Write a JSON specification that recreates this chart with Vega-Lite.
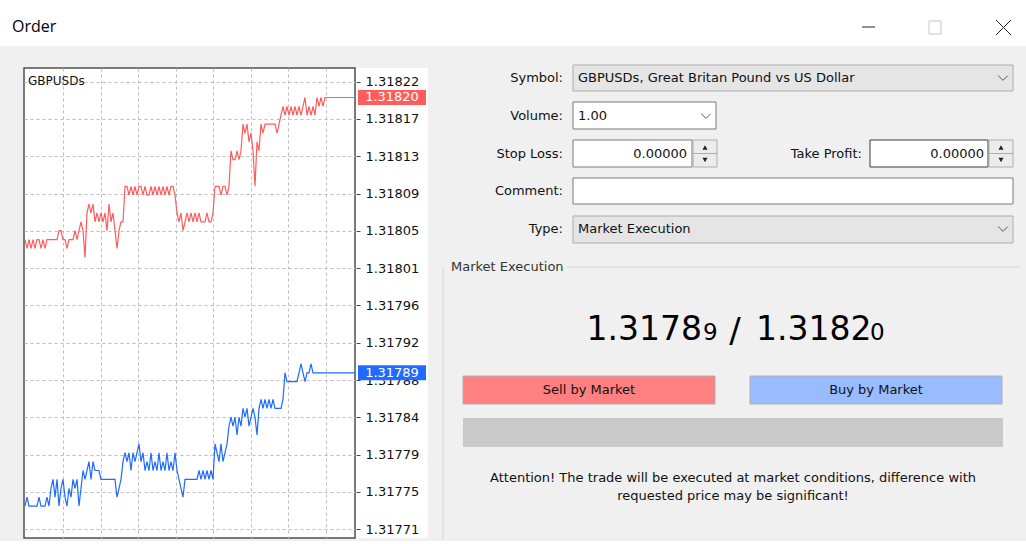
{
  "$schema": "https://vega.github.io/schema/vega-lite/v6.json",
  "background": "#f0f0f0",
  "padding": 0,
  "bounds": "flush",
  "spacing": 22,
  "config": {
    "view": {"stroke": null},
    "text": {"font": "DejaVu Sans", "fontSize": 13, "color": "#111111"}
  },
  "datasets": {
    "ticks": [
      {"tick":0,"side":"Ask","price":1.31804},{"tick":1,"side":"Ask","price":1.31803},{"tick":2,"side":"Ask","price":1.31804},{"tick":3,"side":"Ask","price":1.31803},{"tick":4,"side":"Ask","price":1.31804},{"tick":5,"side":"Ask","price":1.31803},{"tick":6,"side":"Ask","price":1.31804},{"tick":7,"side":"Ask","price":1.31804},{"tick":8,"side":"Ask","price":1.31803},{"tick":9,"side":"Ask","price":1.31804},
      {"tick":10,"side":"Ask","price":1.31803},{"tick":11,"side":"Ask","price":1.31804},{"tick":12,"side":"Ask","price":1.31804},{"tick":13,"side":"Ask","price":1.31804},{"tick":14,"side":"Ask","price":1.31804},{"tick":15,"side":"Ask","price":1.31804},{"tick":16,"side":"Ask","price":1.31804},{"tick":17,"side":"Ask","price":1.31805},{"tick":18,"side":"Ask","price":1.31805},{"tick":19,"side":"Ask","price":1.31804},
      {"tick":20,"side":"Ask","price":1.31804},{"tick":21,"side":"Ask","price":1.31803},{"tick":22,"side":"Ask","price":1.31804},{"tick":23,"side":"Ask","price":1.31804},{"tick":24,"side":"Ask","price":1.31804},{"tick":25,"side":"Ask","price":1.31805},{"tick":26,"side":"Ask","price":1.31804},{"tick":27,"side":"Ask","price":1.31805},{"tick":28,"side":"Ask","price":1.31806},{"tick":29,"side":"Ask","price":1.31805},
      {"tick":30,"side":"Ask","price":1.31802},{"tick":31,"side":"Ask","price":1.31807},{"tick":32,"side":"Ask","price":1.31808},{"tick":33,"side":"Ask","price":1.31807},{"tick":34,"side":"Ask","price":1.31808},{"tick":35,"side":"Ask","price":1.31806},{"tick":36,"side":"Ask","price":1.31807},{"tick":37,"side":"Ask","price":1.31806},{"tick":38,"side":"Ask","price":1.31807},{"tick":39,"side":"Ask","price":1.31806},
      {"tick":40,"side":"Ask","price":1.31807},{"tick":41,"side":"Ask","price":1.31805},{"tick":42,"side":"Ask","price":1.31808},{"tick":43,"side":"Ask","price":1.31806},{"tick":44,"side":"Ask","price":1.31807},{"tick":45,"side":"Ask","price":1.31805},{"tick":46,"side":"Ask","price":1.31803},{"tick":47,"side":"Ask","price":1.31805},{"tick":48,"side":"Ask","price":1.31806},{"tick":49,"side":"Ask","price":1.31806},
      {"tick":50,"side":"Ask","price":1.3181},{"tick":51,"side":"Ask","price":1.3181},{"tick":52,"side":"Ask","price":1.31809},{"tick":53,"side":"Ask","price":1.3181},{"tick":54,"side":"Ask","price":1.31809},{"tick":55,"side":"Ask","price":1.3181},{"tick":56,"side":"Ask","price":1.31809},{"tick":57,"side":"Ask","price":1.3181},{"tick":58,"side":"Ask","price":1.3181},{"tick":59,"side":"Ask","price":1.31809},
      {"tick":60,"side":"Ask","price":1.3181},{"tick":61,"side":"Ask","price":1.31809},{"tick":62,"side":"Ask","price":1.31809},{"tick":63,"side":"Ask","price":1.3181},{"tick":64,"side":"Ask","price":1.31809},{"tick":65,"side":"Ask","price":1.3181},{"tick":66,"side":"Ask","price":1.31809},{"tick":67,"side":"Ask","price":1.3181},{"tick":68,"side":"Ask","price":1.31809},{"tick":69,"side":"Ask","price":1.3181},
      {"tick":70,"side":"Ask","price":1.31809},{"tick":71,"side":"Ask","price":1.3181},{"tick":72,"side":"Ask","price":1.31809},{"tick":73,"side":"Ask","price":1.3181},{"tick":74,"side":"Ask","price":1.3181},{"tick":75,"side":"Ask","price":1.31809},{"tick":76,"side":"Ask","price":1.31807},{"tick":77,"side":"Ask","price":1.31806},{"tick":78,"side":"Ask","price":1.31807},{"tick":79,"side":"Ask","price":1.31805},
      {"tick":80,"side":"Ask","price":1.31806},{"tick":81,"side":"Ask","price":1.31807},{"tick":82,"side":"Ask","price":1.31806},{"tick":83,"side":"Ask","price":1.31807},{"tick":84,"side":"Ask","price":1.31806},{"tick":85,"side":"Ask","price":1.31807},{"tick":86,"side":"Ask","price":1.31806},{"tick":87,"side":"Ask","price":1.31807},{"tick":88,"side":"Ask","price":1.31806},{"tick":89,"side":"Ask","price":1.31806},
      {"tick":90,"side":"Ask","price":1.31806},{"tick":91,"side":"Ask","price":1.31807},{"tick":92,"side":"Ask","price":1.31806},{"tick":93,"side":"Ask","price":1.31806},{"tick":94,"side":"Ask","price":1.31807},{"tick":95,"side":"Ask","price":1.3181},{"tick":96,"side":"Ask","price":1.3181},{"tick":97,"side":"Ask","price":1.3181},{"tick":98,"side":"Ask","price":1.31809},{"tick":99,"side":"Ask","price":1.3181},
      {"tick":100,"side":"Ask","price":1.3181},{"tick":101,"side":"Ask","price":1.31809},{"tick":102,"side":"Ask","price":1.3181},{"tick":103,"side":"Ask","price":1.31814},{"tick":104,"side":"Ask","price":1.31813},{"tick":105,"side":"Ask","price":1.31813},{"tick":106,"side":"Ask","price":1.31814},{"tick":107,"side":"Ask","price":1.31813},{"tick":108,"side":"Ask","price":1.31814},{"tick":109,"side":"Ask","price":1.31817},
      {"tick":110,"side":"Ask","price":1.31816},{"tick":111,"side":"Ask","price":1.31817},{"tick":112,"side":"Ask","price":1.31815},{"tick":113,"side":"Ask","price":1.31816},{"tick":114,"side":"Ask","price":1.31814},{"tick":115,"side":"Ask","price":1.3181},{"tick":116,"side":"Ask","price":1.31815},{"tick":117,"side":"Ask","price":1.31814},{"tick":118,"side":"Ask","price":1.31817},{"tick":119,"side":"Ask","price":1.31816},
      {"tick":120,"side":"Ask","price":1.31817},{"tick":121,"side":"Ask","price":1.31817},{"tick":122,"side":"Ask","price":1.31817},{"tick":123,"side":"Ask","price":1.31817},{"tick":124,"side":"Ask","price":1.31817},{"tick":125,"side":"Ask","price":1.31817},{"tick":126,"side":"Ask","price":1.31816},{"tick":127,"side":"Ask","price":1.31817},{"tick":128,"side":"Ask","price":1.31818},{"tick":129,"side":"Ask","price":1.31819},
      {"tick":130,"side":"Ask","price":1.31818},{"tick":131,"side":"Ask","price":1.31819},{"tick":132,"side":"Ask","price":1.31818},{"tick":133,"side":"Ask","price":1.31819},{"tick":134,"side":"Ask","price":1.31818},{"tick":135,"side":"Ask","price":1.31819},{"tick":136,"side":"Ask","price":1.31818},{"tick":137,"side":"Ask","price":1.31819},{"tick":138,"side":"Ask","price":1.31818},{"tick":139,"side":"Ask","price":1.31819},
      {"tick":140,"side":"Ask","price":1.3182},{"tick":141,"side":"Ask","price":1.31818},{"tick":142,"side":"Ask","price":1.31819},{"tick":143,"side":"Ask","price":1.31818},{"tick":144,"side":"Ask","price":1.31819},{"tick":145,"side":"Ask","price":1.31818},{"tick":146,"side":"Ask","price":1.3182},{"tick":147,"side":"Ask","price":1.31819},{"tick":148,"side":"Ask","price":1.3182},{"tick":149,"side":"Ask","price":1.31819},
      {"tick":150,"side":"Ask","price":1.3182},{"tick":151,"side":"Ask","price":1.3182},{"tick":152,"side":"Ask","price":1.3182},{"tick":153,"side":"Ask","price":1.3182},{"tick":154,"side":"Ask","price":1.3182},{"tick":155,"side":"Ask","price":1.3182},{"tick":156,"side":"Ask","price":1.3182},{"tick":157,"side":"Ask","price":1.3182},{"tick":158,"side":"Ask","price":1.3182},{"tick":159,"side":"Ask","price":1.3182},
      {"tick":160,"side":"Ask","price":1.3182},{"tick":161,"side":"Ask","price":1.3182},{"tick":162,"side":"Ask","price":1.3182},{"tick":163,"side":"Ask","price":1.3182},{"tick":164,"side":"Ask","price":1.3182},{"tick":165,"side":"Ask","price":1.3182},
      {"tick":0,"side":"Bid","price":1.31774},{"tick":1,"side":"Bid","price":1.31775},{"tick":2,"side":"Bid","price":1.31774},{"tick":3,"side":"Bid","price":1.31774},{"tick":4,"side":"Bid","price":1.31774},{"tick":5,"side":"Bid","price":1.31774},{"tick":6,"side":"Bid","price":1.31774},{"tick":7,"side":"Bid","price":1.31775},{"tick":8,"side":"Bid","price":1.31774},{"tick":9,"side":"Bid","price":1.31774},
      {"tick":10,"side":"Bid","price":1.31774},{"tick":11,"side":"Bid","price":1.31775},{"tick":12,"side":"Bid","price":1.31774},{"tick":13,"side":"Bid","price":1.31776},{"tick":14,"side":"Bid","price":1.31777},{"tick":15,"side":"Bid","price":1.31775},{"tick":16,"side":"Bid","price":1.31777},{"tick":17,"side":"Bid","price":1.31774},{"tick":18,"side":"Bid","price":1.31776},{"tick":19,"side":"Bid","price":1.31777},
      {"tick":20,"side":"Bid","price":1.31775},{"tick":21,"side":"Bid","price":1.31774},{"tick":22,"side":"Bid","price":1.31776},{"tick":23,"side":"Bid","price":1.31775},{"tick":24,"side":"Bid","price":1.31777},{"tick":25,"side":"Bid","price":1.31776},{"tick":26,"side":"Bid","price":1.31777},{"tick":27,"side":"Bid","price":1.31774},{"tick":28,"side":"Bid","price":1.31776},{"tick":29,"side":"Bid","price":1.31778},
      {"tick":30,"side":"Bid","price":1.31777},{"tick":31,"side":"Bid","price":1.31778},{"tick":32,"side":"Bid","price":1.31779},{"tick":33,"side":"Bid","price":1.31777},{"tick":34,"side":"Bid","price":1.31779},{"tick":35,"side":"Bid","price":1.31778},{"tick":36,"side":"Bid","price":1.31778},{"tick":37,"side":"Bid","price":1.31778},{"tick":38,"side":"Bid","price":1.31777},{"tick":39,"side":"Bid","price":1.31777},
      {"tick":40,"side":"Bid","price":1.31777},{"tick":41,"side":"Bid","price":1.31777},{"tick":42,"side":"Bid","price":1.31777},{"tick":43,"side":"Bid","price":1.31777},{"tick":44,"side":"Bid","price":1.31777},{"tick":45,"side":"Bid","price":1.31777},{"tick":46,"side":"Bid","price":1.31775},{"tick":47,"side":"Bid","price":1.31776},{"tick":48,"side":"Bid","price":1.31777},{"tick":49,"side":"Bid","price":1.31779},
      {"tick":50,"side":"Bid","price":1.3178},{"tick":51,"side":"Bid","price":1.31779},{"tick":52,"side":"Bid","price":1.3178},{"tick":53,"side":"Bid","price":1.31778},{"tick":54,"side":"Bid","price":1.3178},{"tick":55,"side":"Bid","price":1.31779},{"tick":56,"side":"Bid","price":1.3178},{"tick":57,"side":"Bid","price":1.31781},{"tick":58,"side":"Bid","price":1.31779},{"tick":59,"side":"Bid","price":1.3178},
      {"tick":60,"side":"Bid","price":1.31778},{"tick":61,"side":"Bid","price":1.31779},{"tick":62,"side":"Bid","price":1.31778},{"tick":63,"side":"Bid","price":1.3178},{"tick":64,"side":"Bid","price":1.31778},{"tick":65,"side":"Bid","price":1.31779},{"tick":66,"side":"Bid","price":1.31778},{"tick":67,"side":"Bid","price":1.3178},{"tick":68,"side":"Bid","price":1.31778},{"tick":69,"side":"Bid","price":1.31779},
      {"tick":70,"side":"Bid","price":1.31778},{"tick":71,"side":"Bid","price":1.3178},{"tick":72,"side":"Bid","price":1.31778},{"tick":73,"side":"Bid","price":1.31779},{"tick":74,"side":"Bid","price":1.31778},{"tick":75,"side":"Bid","price":1.3178},{"tick":76,"side":"Bid","price":1.31778},{"tick":77,"side":"Bid","price":1.31777},{"tick":78,"side":"Bid","price":1.31776},{"tick":79,"side":"Bid","price":1.31775},
      {"tick":80,"side":"Bid","price":1.31777},{"tick":81,"side":"Bid","price":1.31777},{"tick":82,"side":"Bid","price":1.31777},{"tick":83,"side":"Bid","price":1.31777},{"tick":84,"side":"Bid","price":1.31777},{"tick":85,"side":"Bid","price":1.31777},{"tick":86,"side":"Bid","price":1.31777},{"tick":87,"side":"Bid","price":1.31778},{"tick":88,"side":"Bid","price":1.31777},{"tick":89,"side":"Bid","price":1.31778},
      {"tick":90,"side":"Bid","price":1.31777},{"tick":91,"side":"Bid","price":1.31778},{"tick":92,"side":"Bid","price":1.31777},{"tick":93,"side":"Bid","price":1.31778},{"tick":94,"side":"Bid","price":1.31777},{"tick":95,"side":"Bid","price":1.31781},{"tick":96,"side":"Bid","price":1.3178},{"tick":97,"side":"Bid","price":1.31779},{"tick":98,"side":"Bid","price":1.31781},{"tick":99,"side":"Bid","price":1.31779},
      {"tick":100,"side":"Bid","price":1.3178},{"tick":101,"side":"Bid","price":1.31781},{"tick":102,"side":"Bid","price":1.31783},{"tick":103,"side":"Bid","price":1.31784},{"tick":104,"side":"Bid","price":1.31783},{"tick":105,"side":"Bid","price":1.31784},{"tick":106,"side":"Bid","price":1.31782},{"tick":107,"side":"Bid","price":1.31784},{"tick":108,"side":"Bid","price":1.31783},{"tick":109,"side":"Bid","price":1.31785},
      {"tick":110,"side":"Bid","price":1.31784},{"tick":111,"side":"Bid","price":1.31785},{"tick":112,"side":"Bid","price":1.31783},{"tick":113,"side":"Bid","price":1.31784},{"tick":114,"side":"Bid","price":1.31785},{"tick":115,"side":"Bid","price":1.31784},{"tick":116,"side":"Bid","price":1.31782},{"tick":117,"side":"Bid","price":1.31785},{"tick":118,"side":"Bid","price":1.31786},{"tick":119,"side":"Bid","price":1.31785},
      {"tick":120,"side":"Bid","price":1.31786},{"tick":121,"side":"Bid","price":1.31785},{"tick":122,"side":"Bid","price":1.31786},{"tick":123,"side":"Bid","price":1.31785},{"tick":124,"side":"Bid","price":1.31786},{"tick":125,"side":"Bid","price":1.31785},{"tick":126,"side":"Bid","price":1.31785},{"tick":127,"side":"Bid","price":1.31785},{"tick":128,"side":"Bid","price":1.31785},{"tick":129,"side":"Bid","price":1.31786},
      {"tick":130,"side":"Bid","price":1.31789},{"tick":131,"side":"Bid","price":1.31788},{"tick":132,"side":"Bid","price":1.31788},{"tick":133,"side":"Bid","price":1.31788},{"tick":134,"side":"Bid","price":1.31788},{"tick":135,"side":"Bid","price":1.31788},{"tick":136,"side":"Bid","price":1.31788},{"tick":137,"side":"Bid","price":1.31789},{"tick":138,"side":"Bid","price":1.3179},{"tick":139,"side":"Bid","price":1.31789},
      {"tick":140,"side":"Bid","price":1.31788},{"tick":141,"side":"Bid","price":1.31789},{"tick":142,"side":"Bid","price":1.31789},{"tick":143,"side":"Bid","price":1.3179},{"tick":144,"side":"Bid","price":1.31789},{"tick":145,"side":"Bid","price":1.31789},{"tick":146,"side":"Bid","price":1.31789},{"tick":147,"side":"Bid","price":1.31789},{"tick":148,"side":"Bid","price":1.31789},{"tick":149,"side":"Bid","price":1.31789},
      {"tick":150,"side":"Bid","price":1.31789},{"tick":151,"side":"Bid","price":1.31789},{"tick":152,"side":"Bid","price":1.31789},{"tick":153,"side":"Bid","price":1.31789},{"tick":154,"side":"Bid","price":1.31789},{"tick":155,"side":"Bid","price":1.31789},{"tick":156,"side":"Bid","price":1.31789},{"tick":157,"side":"Bid","price":1.31789},{"tick":158,"side":"Bid","price":1.31789},{"tick":159,"side":"Bid","price":1.31789},
      {"tick":160,"side":"Bid","price":1.31789},{"tick":161,"side":"Bid","price":1.31789},{"tick":162,"side":"Bid","price":1.31789},{"tick":163,"side":"Bid","price":1.31789},{"tick":164,"side":"Bid","price":1.31789},{"tick":165,"side":"Bid","price":1.31789}
    ]
  },
  "vconcat": [
    {
      "width": 1026,
      "height": 46,
      "view": {"fill": "#ffffff", "stroke": null},
      "data": {"values": [{"title": "Order"}]},
      "layer": [
        {"mark": {"type": "text", "align": "left", "font": "Open Sans", "fontSize": 16, "color": "#000000"},
         "encoding": {"x": {"datum": 12, "scale": {"domain": [0, 1026], "nice": false, "zero": false}, "axis": null},
                      "y": {"datum": 27, "scale": {"domain": [0, 46], "reverse": true, "nice": false, "zero": false}, "axis": null},
                      "text": {"field": "title"}}},
        {"mark": {"type": "rule", "color": "#222222", "strokeWidth": 1},
         "encoding": {"x": {"datum": 862, "scale": {"domain": [0, 1026], "nice": false, "zero": false}, "axis": null}, "x2": {"datum": 875},
                      "y": {"datum": 27, "scale": {"domain": [0, 46], "reverse": true, "nice": false, "zero": false}, "axis": null}}},
        {"mark": {"type": "rect", "fill": "transparent", "stroke": "#c6c6c6", "strokeWidth": 1},
         "encoding": {"x": {"datum": 929, "scale": {"domain": [0, 1026], "nice": false, "zero": false}, "axis": null}, "x2": {"datum": 941},
                      "y": {"datum": 21, "scale": {"domain": [0, 46], "reverse": true, "nice": false, "zero": false}, "axis": null}, "y2": {"datum": 34}}},
        {"mark": {"type": "rule", "color": "#222222", "strokeWidth": 1},
         "encoding": {"x": {"datum": 996, "scale": {"domain": [0, 1026], "nice": false, "zero": false}, "axis": null}, "x2": {"datum": 1011},
                      "y": {"datum": 20, "scale": {"domain": [0, 46], "reverse": true, "nice": false, "zero": false}, "axis": null}, "y2": {"datum": 35}}},
        {"mark": {"type": "rule", "color": "#222222", "strokeWidth": 1},
         "encoding": {"x": {"datum": 996, "scale": {"domain": [0, 1026], "nice": false, "zero": false}, "axis": null}, "x2": {"datum": 1011},
                      "y": {"datum": 35, "scale": {"domain": [0, 46], "reverse": true, "nice": false, "zero": false}, "axis": null}, "y2": {"datum": 20}}}
      ]
    },
    {
      "bounds": "flush",
      "spacing": 1,
      "hconcat": [
        {
          "width": 23,
          "height": 470,
          "data": {"values": [{}]},
          "mark": {"type": "text", "text": ""}
        },
        {
          "width": 331,
          "height": 470,
          "view": {"fill": "#ffffff", "stroke": "#505050", "strokeWidth": 1.5},
          "title": {"text": "GBPUSDs", "anchor": "start", "frame": "group", "offset": -20, "dx": 4, "fontSize": 12, "fontWeight": "normal", "color": "#111111", "font": "DejaVu Sans"},
          "data": {"name": "ticks"},
          "mark": {"type": "line", "strokeWidth": 1.2},
          "encoding": {
            "x": {"field": "tick", "type": "quantitative",
                  "scale": {"domain": [-0.5, 165], "nice": false, "zero": false},
                  "axis": {"values": [19.15, 37.9, 56.65, 75.4, 94.15, 112.9, 131.65, 150.4], "grid": true, "gridColor": "#bcbcbc", "gridDash": [3, 3], "labels": false, "ticks": false, "domain": false, "title": null}},
            "y": {"field": "price", "type": "quantitative",
                  "scale": {"domain": [1.317704, 1.3182332], "nice": false, "zero": false},
                  "axis": {"values": [1.3182178, 1.3181758, 1.3181338, 1.3180918, 1.3180498, 1.3180078, 1.3179658, 1.3179238, 1.3178818, 1.3178398, 1.3177978, 1.3177558, 1.3177138], "grid": true, "gridColor": "#bcbcbc", "gridDash": [3, 3], "labels": false, "ticks": false, "domain": false, "title": null}},
            "color": {"field": "side", "type": "nominal", "scale": {"domain": ["Ask", "Bid"], "range": ["#ff5c5c", "#1f6bff"]}, "legend": null}
          }
        },
        {
          "width": 72,
          "height": 470,
          "view": {"fill": "#ffffff", "stroke": null},
          "data": {"values": [{"side": "Ask", "price": 1.3182}, {"side": "Bid", "price": 1.31789}]},
          "encoding": {
            "y": {"field": "price", "type": "quantitative",
                  "scale": {"domain": [1.317704, 1.3182332], "nice": false, "zero": false},
                  "axis": {"orient": "right", "offset": -72, "values": [1.3182178, 1.3181758, 1.3181338, 1.3180918, 1.3180498, 1.3180078, 1.3179658, 1.3179238, 1.3178818, 1.3178398, 1.3177978, 1.3177558, 1.3177138],
                           "labelExpr": "['1.31822','1.31817','1.31813','1.31809','1.31805','1.31801','1.31796','1.31792','1.31788','1.31784','1.31779','1.31775','1.31771'][round((1.3182178-datum.value)/0.000042)]",
                           "tickSize": 4, "tickColor": "#444444", "labelPadding": 5, "labelFont": "DejaVu Sans", "labelFontSize": 13, "labelColor": "#111111", "labelOverlap": false, "labelFlush": false, "labelBound": false, "domain": false, "grid": false, "title": null}}
          },
          "layer": [
            {"mark": {"type": "tick", "orient": "horizontal", "thickness": 15, "size": 68, "opacity": 1},
             "encoding": {
               "color": {"field": "side", "type": "nominal", "scale": {"domain": ["Ask", "Bid"], "range": ["#ff6464", "#1f6bff"]}, "legend": null}}},
            {"mark": {"type": "text", "color": "#ffffff", "fontSize": 13, "font": "DejaVu Sans"},
             "encoding": {
               "text": {"field": "price", "type": "quantitative", "format": ".5f"}}}
          ]
        },
        {
          "width": 597,
          "height": 470,
          "data": {"values": [{}]},
          "layer": [
            {"mark": {"type": "rule", "color": "#d6d6d6"},
             "encoding": {"x": {"datum": 567, "scale": {"domain": [429, 1026], "nice": false, "zero": false}, "axis": null}, "x2": {"datum": 1020},
                          "y": {"datum": 267, "scale": {"domain": [68, 538], "reverse": true, "nice": false, "zero": false}, "axis": null}}},
            {"mark": {"type": "rule", "color": "#d6d6d6"},
             "encoding": {"x": {"datum": 443, "scale": {"domain": [429, 1026], "nice": false, "zero": false}, "axis": null},
                          "y": {"datum": 267, "scale": {"domain": [68, 538], "reverse": true, "nice": false, "zero": false}, "axis": null}, "y2": {"datum": 540}}},
            {"mark": {"type": "rect", "fill": "#e5e5e5", "stroke": "#adadad"},
             "encoding": {"x": {"datum": 573, "scale": {"domain": [429, 1026], "nice": false, "zero": false}, "axis": null}, "x2": {"datum": 1013},
                          "y": {"datum": 65, "scale": {"domain": [68, 538], "reverse": true, "nice": false, "zero": false}, "axis": null}, "y2": {"datum": 91}}},
            {"mark": {"type": "rect", "fill": "#ffffff", "stroke": "#7a7a7a"},
             "encoding": {"x": {"datum": 573, "scale": {"domain": [429, 1026], "nice": false, "zero": false}, "axis": null}, "x2": {"datum": 716},
                          "y": {"datum": 102, "scale": {"domain": [68, 538], "reverse": true, "nice": false, "zero": false}, "axis": null}, "y2": {"datum": 129}}},
            {"mark": {"type": "rect", "fill": "#ffffff", "stroke": "#7a7a7a"},
             "encoding": {"x": {"datum": 573, "scale": {"domain": [429, 1026], "nice": false, "zero": false}, "axis": null}, "x2": {"datum": 692},
                          "y": {"datum": 140, "scale": {"domain": [68, 538], "reverse": true, "nice": false, "zero": false}, "axis": null}, "y2": {"datum": 167}}},
            {"mark": {"type": "rect", "fill": "#ececec", "stroke": "#adadad"},
             "encoding": {"x": {"datum": 693, "scale": {"domain": [429, 1026], "nice": false, "zero": false}, "axis": null}, "x2": {"datum": 717},
                          "y": {"datum": 140, "scale": {"domain": [68, 538], "reverse": true, "nice": false, "zero": false}, "axis": null}, "y2": {"datum": 167}}},
            {"mark": {"type": "rule", "color": "#adadad"},
             "encoding": {"x": {"datum": 693, "scale": {"domain": [429, 1026], "nice": false, "zero": false}, "axis": null}, "x2": {"datum": 717},
                          "y": {"datum": 153.5, "scale": {"domain": [68, 538], "reverse": true, "nice": false, "zero": false}, "axis": null}}},
            {"mark": {"type": "rect", "fill": "#ffffff", "stroke": "#3a3a3a"},
             "encoding": {"x": {"datum": 870, "scale": {"domain": [429, 1026], "nice": false, "zero": false}, "axis": null}, "x2": {"datum": 988},
                          "y": {"datum": 140, "scale": {"domain": [68, 538], "reverse": true, "nice": false, "zero": false}, "axis": null}, "y2": {"datum": 167}}},
            {"mark": {"type": "rect", "fill": "#ececec", "stroke": "#adadad"},
             "encoding": {"x": {"datum": 989, "scale": {"domain": [429, 1026], "nice": false, "zero": false}, "axis": null}, "x2": {"datum": 1013},
                          "y": {"datum": 140, "scale": {"domain": [68, 538], "reverse": true, "nice": false, "zero": false}, "axis": null}, "y2": {"datum": 167}}},
            {"mark": {"type": "rule", "color": "#adadad"},
             "encoding": {"x": {"datum": 989, "scale": {"domain": [429, 1026], "nice": false, "zero": false}, "axis": null}, "x2": {"datum": 1013},
                          "y": {"datum": 153.5, "scale": {"domain": [68, 538], "reverse": true, "nice": false, "zero": false}, "axis": null}}},
            {"mark": {"type": "rect", "fill": "#ffffff", "stroke": "#7a7a7a"},
             "encoding": {"x": {"datum": 573, "scale": {"domain": [429, 1026], "nice": false, "zero": false}, "axis": null}, "x2": {"datum": 1013},
                          "y": {"datum": 178, "scale": {"domain": [68, 538], "reverse": true, "nice": false, "zero": false}, "axis": null}, "y2": {"datum": 204}}},
            {"mark": {"type": "rect", "fill": "#e5e5e5", "stroke": "#adadad"},
             "encoding": {"x": {"datum": 573, "scale": {"domain": [429, 1026], "nice": false, "zero": false}, "axis": null}, "x2": {"datum": 1013},
                          "y": {"datum": 216, "scale": {"domain": [68, 538], "reverse": true, "nice": false, "zero": false}, "axis": null}, "y2": {"datum": 243}}},
            {"mark": {"type": "rect", "fill": "#ff8080", "stroke": "#b0b0b0"},
             "encoding": {"x": {"datum": 463, "scale": {"domain": [429, 1026], "nice": false, "zero": false}, "axis": null}, "x2": {"datum": 715},
                          "y": {"datum": 376, "scale": {"domain": [68, 538], "reverse": true, "nice": false, "zero": false}, "axis": null}, "y2": {"datum": 404}}},
            {"mark": {"type": "rect", "fill": "#99bbff", "stroke": "#b0b0b0"},
             "encoding": {"x": {"datum": 750, "scale": {"domain": [429, 1026], "nice": false, "zero": false}, "axis": null}, "x2": {"datum": 1002},
                          "y": {"datum": 376, "scale": {"domain": [68, 538], "reverse": true, "nice": false, "zero": false}, "axis": null}, "y2": {"datum": 404}}},
            {"mark": {"type": "rect", "fill": "#c9c9c9"},
             "encoding": {"x": {"datum": 463, "scale": {"domain": [429, 1026], "nice": false, "zero": false}, "axis": null}, "x2": {"datum": 1003},
                          "y": {"datum": 418, "scale": {"domain": [68, 538], "reverse": true, "nice": false, "zero": false}, "axis": null}, "y2": {"datum": 447}}},
            {"mark": {"type": "point", "shape": "M-1,-0.5L0,0.5L1,-0.5", "filled": false, "size": 90, "color": "#555555", "strokeWidth": 1, "opacity": 1},
             "encoding": {"x": {"datum": 1003, "scale": {"domain": [429, 1026], "nice": false, "zero": false}, "axis": null},
                          "y": {"datum": 78, "scale": {"domain": [68, 538], "reverse": true, "nice": false, "zero": false}, "axis": null}}},
            {"mark": {"type": "point", "shape": "M-1,-0.5L0,0.5L1,-0.5", "filled": false, "size": 90, "color": "#555555", "strokeWidth": 1, "opacity": 1},
             "encoding": {"x": {"datum": 706, "scale": {"domain": [429, 1026], "nice": false, "zero": false}, "axis": null},
                          "y": {"datum": 116, "scale": {"domain": [68, 538], "reverse": true, "nice": false, "zero": false}, "axis": null}}},
            {"mark": {"type": "point", "shape": "M-1,-0.5L0,0.5L1,-0.5", "filled": false, "size": 90, "color": "#555555", "strokeWidth": 1, "opacity": 1},
             "encoding": {"x": {"datum": 1003, "scale": {"domain": [429, 1026], "nice": false, "zero": false}, "axis": null},
                          "y": {"datum": 229, "scale": {"domain": [68, 538], "reverse": true, "nice": false, "zero": false}, "axis": null}}},
            {"mark": {"type": "point", "shape": "triangle-up", "filled": true, "size": 26, "color": "#222222", "opacity": 1},
             "encoding": {"x": {"datum": 705, "scale": {"domain": [429, 1026], "nice": false, "zero": false}, "axis": null},
                          "y": {"datum": 147.5, "scale": {"domain": [68, 538], "reverse": true, "nice": false, "zero": false}, "axis": null}}},
            {"mark": {"type": "point", "shape": "triangle-down", "filled": true, "size": 26, "color": "#222222", "opacity": 1},
             "encoding": {"x": {"datum": 705, "scale": {"domain": [429, 1026], "nice": false, "zero": false}, "axis": null},
                          "y": {"datum": 160, "scale": {"domain": [68, 538], "reverse": true, "nice": false, "zero": false}, "axis": null}}},
            {"mark": {"type": "point", "shape": "triangle-up", "filled": true, "size": 26, "color": "#222222", "opacity": 1},
             "encoding": {"x": {"datum": 1001, "scale": {"domain": [429, 1026], "nice": false, "zero": false}, "axis": null},
                          "y": {"datum": 147.5, "scale": {"domain": [68, 538], "reverse": true, "nice": false, "zero": false}, "axis": null}}},
            {"mark": {"type": "point", "shape": "triangle-down", "filled": true, "size": 26, "color": "#222222", "opacity": 1},
             "encoding": {"x": {"datum": 1001, "scale": {"domain": [429, 1026], "nice": false, "zero": false}, "axis": null},
                          "y": {"datum": 160, "scale": {"domain": [68, 538], "reverse": true, "nice": false, "zero": false}, "axis": null}}},
            {"data": {"values": [{"label": "Symbol:"}]}, "mark": {"type": "text", "align": "right"},
             "encoding": {"x": {"datum": 563, "scale": {"domain": [429, 1026], "nice": false, "zero": false}, "axis": null},
                          "y": {"datum": 78, "scale": {"domain": [68, 538], "reverse": true, "nice": false, "zero": false}, "axis": null}, "text": {"field": "label"}}},
            {"data": {"values": [{"label": "Volume:"}]}, "mark": {"type": "text", "align": "right"},
             "encoding": {"x": {"datum": 563, "scale": {"domain": [429, 1026], "nice": false, "zero": false}, "axis": null},
                          "y": {"datum": 116, "scale": {"domain": [68, 538], "reverse": true, "nice": false, "zero": false}, "axis": null}, "text": {"field": "label"}}},
            {"data": {"values": [{"label": "Stop Loss:"}]}, "mark": {"type": "text", "align": "right"},
             "encoding": {"x": {"datum": 563, "scale": {"domain": [429, 1026], "nice": false, "zero": false}, "axis": null},
                          "y": {"datum": 154, "scale": {"domain": [68, 538], "reverse": true, "nice": false, "zero": false}, "axis": null}, "text": {"field": "label"}}},
            {"data": {"values": [{"label": "Comment:"}]}, "mark": {"type": "text", "align": "right"},
             "encoding": {"x": {"datum": 563, "scale": {"domain": [429, 1026], "nice": false, "zero": false}, "axis": null},
                          "y": {"datum": 191, "scale": {"domain": [68, 538], "reverse": true, "nice": false, "zero": false}, "axis": null}, "text": {"field": "label"}}},
            {"data": {"values": [{"label": "Type:"}]}, "mark": {"type": "text", "align": "right"},
             "encoding": {"x": {"datum": 563, "scale": {"domain": [429, 1026], "nice": false, "zero": false}, "axis": null},
                          "y": {"datum": 229, "scale": {"domain": [68, 538], "reverse": true, "nice": false, "zero": false}, "axis": null}, "text": {"field": "label"}}},
            {"data": {"values": [{"label": "Take Profit:"}]}, "mark": {"type": "text", "align": "right"},
             "encoding": {"x": {"datum": 862, "scale": {"domain": [429, 1026], "nice": false, "zero": false}, "axis": null},
                          "y": {"datum": 154, "scale": {"domain": [68, 538], "reverse": true, "nice": false, "zero": false}, "axis": null}, "text": {"field": "label"}}},
            {"data": {"values": [{"value": "GBPUSDs, Great Britan Pound vs US Dollar"}]}, "mark": {"type": "text", "align": "left"},
             "encoding": {"x": {"datum": 578, "scale": {"domain": [429, 1026], "nice": false, "zero": false}, "axis": null},
                          "y": {"datum": 78, "scale": {"domain": [68, 538], "reverse": true, "nice": false, "zero": false}, "axis": null}, "text": {"field": "value"}}},
            {"data": {"values": [{"value": "1.00"}]}, "mark": {"type": "text", "align": "left"},
             "encoding": {"x": {"datum": 578, "scale": {"domain": [429, 1026], "nice": false, "zero": false}, "axis": null},
                          "y": {"datum": 116, "scale": {"domain": [68, 538], "reverse": true, "nice": false, "zero": false}, "axis": null}, "text": {"field": "value"}}},
            {"data": {"values": [{"value": "0.00000"}]}, "mark": {"type": "text", "align": "right"},
             "encoding": {"x": {"datum": 687, "scale": {"domain": [429, 1026], "nice": false, "zero": false}, "axis": null},
                          "y": {"datum": 154, "scale": {"domain": [68, 538], "reverse": true, "nice": false, "zero": false}, "axis": null}, "text": {"field": "value"}}},
            {"data": {"values": [{"value": "0.00000"}]}, "mark": {"type": "text", "align": "right"},
             "encoding": {"x": {"datum": 984, "scale": {"domain": [429, 1026], "nice": false, "zero": false}, "axis": null},
                          "y": {"datum": 154, "scale": {"domain": [68, 538], "reverse": true, "nice": false, "zero": false}, "axis": null}, "text": {"field": "value"}}},
            {"data": {"values": [{"value": "Market Execution"}]}, "mark": {"type": "text", "align": "left"},
             "encoding": {"x": {"datum": 578, "scale": {"domain": [429, 1026], "nice": false, "zero": false}, "axis": null},
                          "y": {"datum": 229, "scale": {"domain": [68, 538], "reverse": true, "nice": false, "zero": false}, "axis": null}, "text": {"field": "value"}}},
            {"data": {"values": [{"value": "Market Execution"}]}, "mark": {"type": "text", "align": "left", "color": "#333333"},
             "encoding": {"x": {"datum": 451, "scale": {"domain": [429, 1026], "nice": false, "zero": false}, "axis": null},
                          "y": {"datum": 267, "scale": {"domain": [68, 538], "reverse": true, "nice": false, "zero": false}, "axis": null}, "text": {"field": "value"}}},
            {"data": {"values": [{"value": "1.3178"}]}, "mark": {"type": "text", "align": "right", "baseline": "alphabetic", "fontSize": 33, "color": "#000000"},
             "encoding": {"x": {"datum": 702, "scale": {"domain": [429, 1026], "nice": false, "zero": false}, "axis": null},
                          "y": {"datum": 340, "scale": {"domain": [68, 538], "reverse": true, "nice": false, "zero": false}, "axis": null}, "text": {"field": "value"}}},
            {"data": {"values": [{"value": "9"}]}, "mark": {"type": "text", "align": "left", "baseline": "alphabetic", "fontSize": 23, "color": "#000000"},
             "encoding": {"x": {"datum": 703, "scale": {"domain": [429, 1026], "nice": false, "zero": false}, "axis": null},
                          "y": {"datum": 340, "scale": {"domain": [68, 538], "reverse": true, "nice": false, "zero": false}, "axis": null}, "text": {"field": "value"}}},
            {"data": {"values": [{"value": "/"}]}, "mark": {"type": "text", "align": "center", "baseline": "alphabetic", "fontSize": 34, "color": "#000000"},
             "encoding": {"x": {"datum": 735, "scale": {"domain": [429, 1026], "nice": false, "zero": false}, "axis": null},
                          "y": {"datum": 342, "scale": {"domain": [68, 538], "reverse": true, "nice": false, "zero": false}, "axis": null}, "text": {"field": "value"}}},
            {"data": {"values": [{"value": "1.3182"}]}, "mark": {"type": "text", "align": "left", "baseline": "alphabetic", "fontSize": 33, "color": "#000000"},
             "encoding": {"x": {"datum": 756, "scale": {"domain": [429, 1026], "nice": false, "zero": false}, "axis": null},
                          "y": {"datum": 340, "scale": {"domain": [68, 538], "reverse": true, "nice": false, "zero": false}, "axis": null}, "text": {"field": "value"}}},
            {"data": {"values": [{"value": "0"}]}, "mark": {"type": "text", "align": "left", "baseline": "alphabetic", "fontSize": 23, "color": "#000000"},
             "encoding": {"x": {"datum": 870, "scale": {"domain": [429, 1026], "nice": false, "zero": false}, "axis": null},
                          "y": {"datum": 340, "scale": {"domain": [68, 538], "reverse": true, "nice": false, "zero": false}, "axis": null}, "text": {"field": "value"}}},
            {"data": {"values": [{"value": "Sell by Market"}]}, "mark": {"type": "text", "align": "center"},
             "encoding": {"x": {"datum": 589, "scale": {"domain": [429, 1026], "nice": false, "zero": false}, "axis": null},
                          "y": {"datum": 390, "scale": {"domain": [68, 538], "reverse": true, "nice": false, "zero": false}, "axis": null}, "text": {"field": "value"}}},
            {"data": {"values": [{"value": "Buy by Market"}]}, "mark": {"type": "text", "align": "center"},
             "encoding": {"x": {"datum": 876, "scale": {"domain": [429, 1026], "nice": false, "zero": false}, "axis": null},
                          "y": {"datum": 390, "scale": {"domain": [68, 538], "reverse": true, "nice": false, "zero": false}, "axis": null}, "text": {"field": "value"}}},
            {"data": {"values": [{"value": "Attention! The trade will be executed at market conditions, difference with"}]}, "mark": {"type": "text", "align": "center"},
             "encoding": {"x": {"datum": 733, "scale": {"domain": [429, 1026], "nice": false, "zero": false}, "axis": null},
                          "y": {"datum": 478, "scale": {"domain": [68, 538], "reverse": true, "nice": false, "zero": false}, "axis": null}, "text": {"field": "value"}}},
            {"data": {"values": [{"value": "requested price may be significant!"}]}, "mark": {"type": "text", "align": "center"},
             "encoding": {"x": {"datum": 733, "scale": {"domain": [429, 1026], "nice": false, "zero": false}, "axis": null},
                          "y": {"datum": 496, "scale": {"domain": [68, 538], "reverse": true, "nice": false, "zero": false}, "axis": null}, "text": {"field": "value"}}}
          ]
        }
      ]
    }
  ]
}
